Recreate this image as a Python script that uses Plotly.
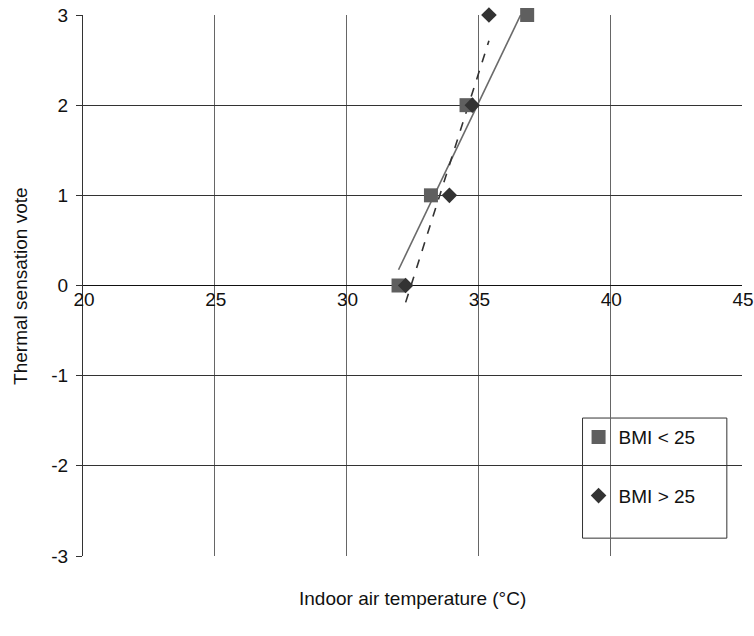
import numpy as np
import plotly.graph_objects as go

# Data
votes = [0, 1, 2, 3]
temp_bmi_low = [31.97, 33.2, 34.55, 36.85]   # BMI < 25
temp_bmi_high = [32.24, 33.9, 34.77, 35.4]   # BMI > 25
x_ticks = [20, 25, 30, 35, 40, 45]
y_ticks = [-3, -2, -1, 0, 1, 2, 3]
y_labels = ["-3", "-2", "-1", "0", "1", "2", "3"]

def trend(xs, ys):
    a, b = np.polyfit(xs, ys, 1)
    xr = [min(xs), max(xs)]
    return xr, [a * v + b for v in xr]

fig = go.Figure()

tx, ty = trend(temp_bmi_low, votes)
fig.add_trace(go.Scatter(x=tx, y=ty, mode="lines", line=dict(color="#6a6a6a", width=1.6),
                         showlegend=False, hoverinfo="skip"))
tx2, ty2 = trend(temp_bmi_high, votes)
fig.add_trace(go.Scatter(x=tx2, y=ty2, mode="lines", line=dict(color="#333333", width=1.6, dash="dash"),
                         showlegend=False, hoverinfo="skip"))

fig.add_trace(go.Scatter(x=temp_bmi_low, y=votes, mode="markers", name="BMI < 25",
                         legendgroup="a", cliponaxis=False,
                         marker=dict(symbol="square", size=14, color="#5f5f5f")))
fig.add_trace(go.Scatter(x=temp_bmi_high, y=votes, mode="markers", name="BMI > 25",
                         legendgroup="b", cliponaxis=False,
                         marker=dict(symbol="diamond", size=12, color="#333333")))

font = "Liberation Sans, Arial, sans-serif"
fig.update_layout(
    width=754, height=636,
    margin=dict(l=83, r=12, t=15, b=80, autoexpand=False),
    paper_bgcolor="white", plot_bgcolor="white",
    font=dict(family=font, size=19, color="#111111"),
    showlegend=True,
    legend=dict(x=0.752, y=0.255, xanchor="left", yanchor="top",
                bgcolor="rgba(0,0,0,0)", borderwidth=0,
                tracegroupgap=31, traceorder="grouped",
                font=dict(family=font, size=19)),
    shapes=[dict(type="rect", xref="paper", yref="paper", x0=0.758, x1=0.977, y0=0.033, y1=0.255,
                 line=dict(color="#333333", width=1), fillcolor="white", layer="below")],
    xaxis=dict(range=[20, 45], tickvals=x_ticks, showgrid=True, gridcolor="#666666", gridwidth=1,
               zeroline=False, showline=False, anchor="free", position=0.5, automargin=False,
               ticks="", tickfont=dict(size=19), ticklabelshift=1, ticklabeloverflow="allow",
               fixedrange=True),
    yaxis=dict(range=[-3, 3], tickvals=y_ticks, ticktext=y_labels, showgrid=True,
               gridcolor="#333333", gridwidth=1, automargin=False,
               zeroline=True, zerolinecolor="#111111", zerolinewidth=1,
               showline=True, linecolor="#333333", linewidth=1, ticklabelstandoff=4,
               ticks="outside", ticklen=6, tickcolor="#333333", tickfont=dict(size=19)),
    annotations=[
        dict(text="Indoor air temperature (°C)", xref="paper", yref="paper", x=0.5, y=-0.078,
             xanchor="center", yanchor="middle", showarrow=False, font=dict(size=19)),
        dict(text="Thermal sensation vote", xref="paper", yref="paper", x=-0.095, y=0.5,
             xanchor="center", yanchor="middle", textangle=-90, showarrow=False, font=dict(size=19)),
    ],
)

fig.write_html("out.html")
